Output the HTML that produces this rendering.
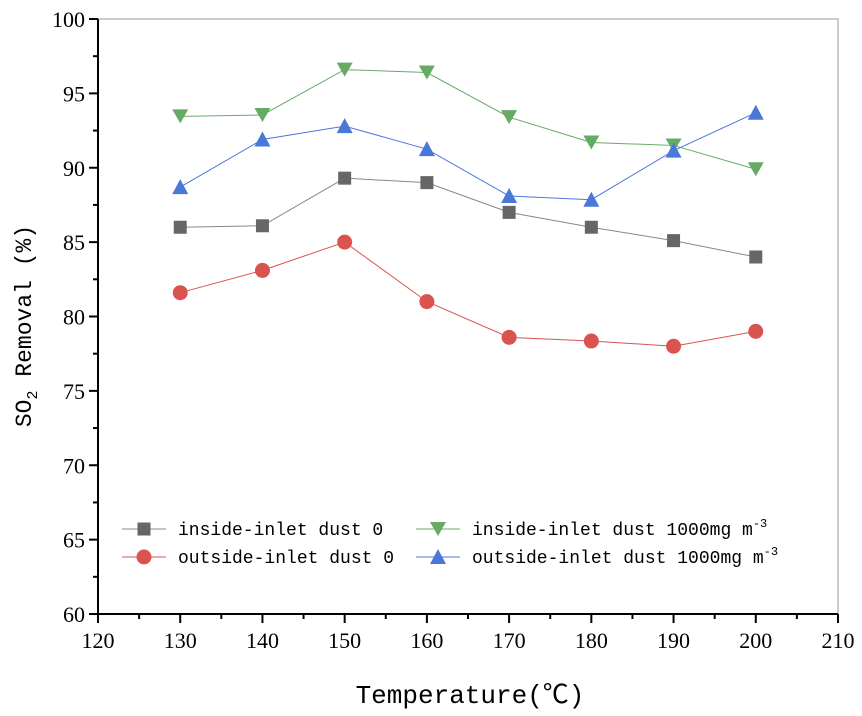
<!DOCTYPE html>
<html><head><meta charset="utf-8"><style>
body{margin:0;background:#fff}
svg text{font-family:"Liberation Serif","Noto Serif CJK SC",serif}
svg text.mono{font-family:"Liberation Mono","Noto Sans CJK SC",monospace}
</style></head><body>
<svg id="chart" width="862" height="711" xmlns="http://www.w3.org/2000/svg">
</svg>
<script>
const categories=[130,140,150,160,170,180,190,200];
const insideDust0=[86.0,86.1,89.3,89.0,87.0,86.0,85.1,84.0];
const outsideDust0=[81.6,83.1,85.0,81.0,78.6,78.35,78.0,79.0];
const insideDust1000=[93.45,93.55,96.6,96.4,93.4,91.7,91.5,89.9];
const outsideDust1000=[88.7,91.9,92.8,91.25,88.1,87.85,91.15,93.7];
const xTicks=[120,130,140,150,160,170,180,190,200,210];
const yTicks=[60,65,70,75,80,85,90,95,100];
const L=98,R=838,T=19,B=614;
const xs=v=>L+(v-120)/90*(R-L);
const ys=v=>B-(v-60)/40*(B-T);
const svg=document.getElementById('chart');
const NS='http://www.w3.org/2000/svg';
function mk(tag,attrs,parent){const e=document.createElementNS(NS,tag);for(const k in attrs)e.setAttribute(k,attrs[k]);(parent||svg).appendChild(e);return e;}
let e;
e=mk('path',{d:`M${L},${T}H${R}V${B}`,fill:'none',stroke:'#bbb','stroke-width':1.5});


e=mk('path',{d:`M${L},${T}V${B}H${R}`,fill:'none',stroke:'#000','stroke-width':2});


xTicks.forEach((t,i)=>{const x=xs(t);
 mk('line',{x1:x,x2:x,y1:B,y2:B+9,stroke:'#000','stroke-width':2});
 if(i<xTicks.length-1){const xm=xs(t+5);mk('line',{x1:xm,x2:xm,y1:B,y2:B+5,stroke:'#000','stroke-width':2});}
 e=mk('text',{x:x,y:B+34,'text-anchor':'middle','font-size':22});e.textContent=t;
 
 
});
yTicks.forEach((t,i)=>{const y=ys(t);
 mk('line',{x1:L-9,x2:L,y1:y,y2:y,stroke:'#000','stroke-width':2});
 if(i<yTicks.length-1){const ym=ys(t+2.5);mk('line',{x1:L-5,x2:L,y1:ym,y2:ym,stroke:'#000','stroke-width':2});}
 e=mk('text',{x:L-13,y:y+8,'text-anchor':'end','font-size':22});e.textContent=t;
 
 
});
e=mk('text',{x:470,y:703,'text-anchor':'middle','font-size':26,'class':'mono'});e.textContent='Temperature(℃)';


e=mk('text',{transform:'translate(31,326) rotate(-90)','text-anchor':'middle','font-size':23,'class':'mono'});
e.innerHTML='SO<tspan font-size="15" dy="6">2</tspan><tspan dy="-6"> Removal (%)</tspan>';


function marker(kind,x,y,c,g){
 if(kind==='sq')return mk('rect',{x:x-6.5,y:y-6.5,width:13,height:13,fill:c},g);
 if(kind==='ci')return mk('circle',{cx:x,cy:y,r:7.5,fill:c},g);
 if(kind==='dn')return mk('path',{d:`M${x-8},${y-7}H${x+8}L${x},${y+7}Z`,fill:c},g);
 return mk('path',{d:`M${x-8},${y+7}H${x+8}L${x},${y-8}Z`,fill:c},g);
}
const series=[
 {name:'inside-dust-0',vals:insideDust0,c:'#666',line:'#888',k:'sq'},
 {name:'outside-dust-0',vals:outsideDust0,c:'#d9534f',line:'#d9534f',k:'ci'},
 {name:'inside-dust-1000',vals:insideDust1000,c:'#66aa66',line:'#66aa66',k:'dn'},
 {name:'outside-dust-1000',vals:outsideDust1000,c:'#4a78d8',line:'#4a78d8',k:'up'}];
series.forEach(s=>{
 const g=mk('g',{});
 
 
 mk('polyline',{points:s.vals.map((v,i)=>xs(categories[i])+','+ys(v)).join(' '),fill:'none',stroke:s.line,'stroke-width':1},g);
 s.vals.forEach((v,i)=>{const m=marker(s.k,xs(categories[i]),ys(v),s.c,g);
  
  });
});
const leg=[[0,122,529,'inside-inlet dust 0',''],[1,122,557,'outside-inlet dust 0',''],[2,416,529,'inside-inlet dust 1000mg m','-3'],[3,416,557,'outside-inlet dust 1000mg m','-3']];
leg.forEach(l=>{const s=series[l[0]];const g=mk('g',{});
 
 
 mk('line',{x1:l[1],x2:l[1]+44,y1:l[2],y2:l[2],stroke:s.line,'stroke-width':1},g);
 marker(s.k,l[1]+22,l[2],s.c,g);
 const t=mk('text',{x:l[1]+56,y:l[2]+6,'font-size':18,'class':'mono'},g);
 t.innerHTML=l[3]+(l[4]?'<tspan font-size="12" dy="-8">'+l[4]+'</tspan>':'');
});
</script>
</body></html>
